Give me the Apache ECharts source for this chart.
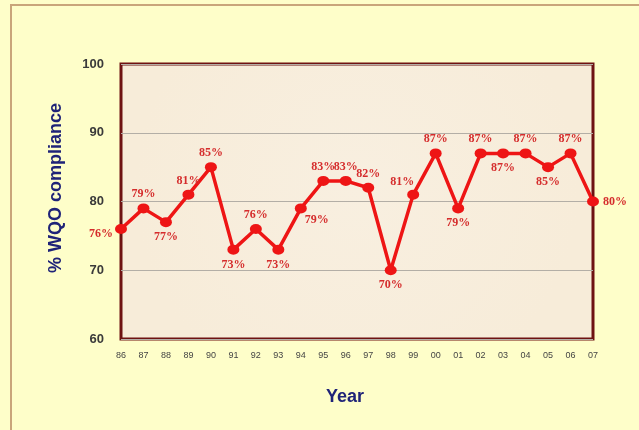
<!DOCTYPE html>
<html>
<head>
<meta charset="utf-8">
<script src="https://cdn.jsdelivr.net/npm/echarts@6/dist/echarts.min.js"></script>
<style>
  html, body { margin: 0; padding: 0; background: #fefec9; }
  #chart { width: 639px; height: 430px; }
</style>
</head>
<body>
<div id="chart"></div>
<script>
// Annual compliance with Water Quality Objectives (%), 1986-2007
const years = ['86','87','88','89','90','91','92','93','94','95','96','97','98','99','00','01','02','03','04','05','06','07'];
const compliance = [76, 79, 77, 81, 85, 73, 76, 73, 79, 83, 83, 82, 70, 81, 87, 79, 87, 87, 87, 85, 87, 80];
// where each value label sits relative to its point
const labelPlacement = ['left','top','bottom','top','top','bottom','top','bottom','bottomRight','top','top','top','bottom','topLeft','top','bottom','top','bottom','top','bottom','top','right'];
const yTicks = { min: 60, max: 100, step: 10 };

const placementStyles = {
  top:         { position: 'top', distance: 3 },
  bottom:      { position: 'bottom', distance: 4 },
  left:        { position: 'left', distance: 2, offset: [0, 5] },
  right:       { position: 'right', distance: 4 },
  bottomRight: { position: 'bottom', distance: 1, offset: [16, 0] },
  topLeft:     { position: 'top', distance: 2, offset: [-11, 0] }
};

const seriesData = compliance.map((v, i) => ({
  value: v,
  label: placementStyles[labelPlacement[i]]
}));

const chart = echarts.init(document.getElementById('chart'), null, { renderer: 'canvas' });

chart.setOption({
  backgroundColor: '#fefec9',
  animation: false,
  grid: {
    left: 121, right: 46, top: 64, bottom: 91,
    show: true,
    backgroundColor: {
      type: 'radial', x: 0.5, y: 0.45, r: 0.8,
      colorStops: [
        { offset: 0, color: '#f8efe0' },
        { offset: 1, color: '#f7ecd9' }
      ]
    },
    borderColor: '#6e1212',
    borderWidth: 3
  },
  xAxis: {
    type: 'category',
    data: years,
    boundaryGap: false,
    axisLine: { show: false },
    axisTick: { show: false },
    axisLabel: {
      margin: 12,
      fontSize: 9,
      fontFamily: 'Liberation Sans, Arial, sans-serif',
      color: '#444444',
      interval: 0
    },
    splitLine: { show: false }
  },
  yAxis: {
    type: 'value',
    min: yTicks.min,
    max: yTicks.max,
    interval: yTicks.step,
    axisLine: { show: false },
    axisTick: { show: false },
    axisLabel: {
      margin: 17,
      fontSize: 13,
      fontWeight: 'bold',
      fontFamily: 'Liberation Sans, Arial, sans-serif',
      color: '#3a3a3a'
    },
    splitLine: { show: true, lineStyle: { color: '#b3aea6', width: 1 } }
  },
  graphic: [
    {
      type: 'rect',
      shape: { x: 11, y: 5, width: 700, height: 500 },
      style: { fill: 'transparent', stroke: '#c9a57a', lineWidth: 2 },
      silent: true, z: 0
    },
    {
      type: 'text',
      x: 56, y: 188,
      rotation: Math.PI / 2,
      style: {
        text: '% WQO compliance',
        fill: '#1f2378',
        font: 'bold 18px "Liberation Sans", Arial, sans-serif',
        textAlign: 'center',
        textVerticalAlign: 'middle'
      },
      z: 10
    },
    {
      type: 'text',
      x: 345, y: 397,
      style: {
        text: 'Year',
        fill: '#1f2378',
        font: 'bold 18px "Liberation Sans", Arial, sans-serif',
        textAlign: 'center',
        textVerticalAlign: 'middle'
      },
      z: 10
    }
  ],
  series: [{
    type: 'line',
    data: seriesData,
    symbol: 'circle',
    symbolSize: [12, 10],
    itemStyle: { color: '#ee1515' },
    lineStyle: { color: '#ee1515', width: 3.5 },
    label: {
      show: true,
      formatter: p => p.value + '%',
      color: '#d52c2c',
      fontSize: 12,
      fontWeight: 'bold',
      fontFamily: '"Liberation Serif", "Times New Roman", serif'
    },
    z: 5
  }]
});
</script>
</body>
</html>
